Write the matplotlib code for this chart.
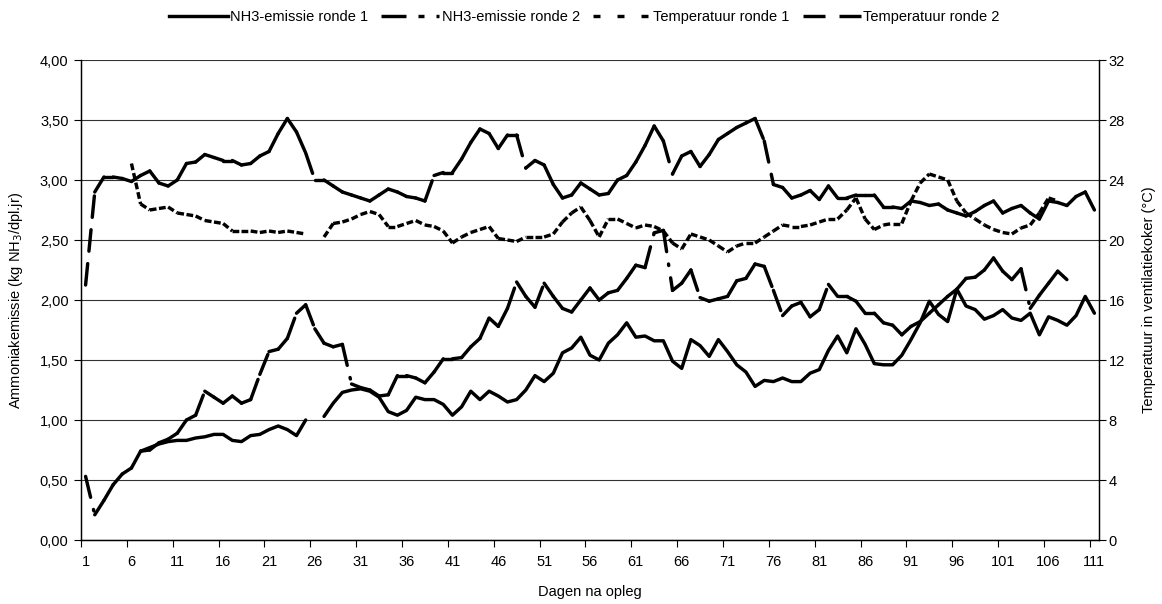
import numpy as np
import matplotlib
matplotlib.use("Agg")
import matplotlib.pyplot as plt
from matplotlib.collections import LineCollection
from matplotlib.lines import Line2D

plt.rcParams["font.family"] = ["Liberation Sans Narrow", "Liberation Sans", "DejaVu Sans"]
plt.rcParams["lines.scale_dashes"] = False

nan = np.nan
days = np.arange(1, 112)

# NH3 emission, kg NH3 per animal place per year
nh3_ronde1 = [
    nan, nan, nan, nan, nan, nan, 0.74, 0.77, 0.80, 0.82,
    0.83, 0.83, 0.85, 0.86, 0.88, 0.88, 0.83, 0.82, 0.87, 0.88,
    0.92, 0.95, 0.92, 0.87, 1.00, nan, 1.03, 1.14, 1.23, 1.25,
    1.26, 1.24, 1.19, 1.07, 1.04, 1.08, 1.19, 1.17, 1.17, 1.13,
    1.04, 1.11, 1.24, 1.17, 1.24, 1.20, 1.15, 1.17, 1.25, 1.37,
    1.32, 1.39, 1.56, 1.60, 1.69, 1.54, 1.50, 1.64, 1.71, 1.81,
    1.69, 1.70, 1.66, 1.66, 1.49, 1.43, 1.67, 1.62, 1.53, 1.67,
    1.57, 1.46, 1.40, 1.28, 1.33, 1.32, 1.35, 1.32, 1.32, 1.39,
    1.42, 1.58, 1.70, 1.56, 1.76, 1.63, 1.47, 1.46, 1.46, 1.54,
    1.67, 1.81, 1.99, 1.88, 1.82, 2.09, 1.95, 1.92, 1.84, 1.87,
    1.92, 1.85, 1.83, 1.89, 1.71, 1.86, 1.83, 1.79, 1.87, 2.03, 1.89,
]
nh3_ronde2 = [
    0.53, 0.21, 0.33, 0.46, 0.55, 0.60, 0.74, 0.75, 0.81, 0.84,
    0.89, 1.00, 1.04, 1.24, 1.19, 1.14, 1.20, 1.14, 1.17, 1.38,
    1.57, 1.59, 1.68, 1.89, 1.96, 1.76, 1.64, 1.61, 1.63, 1.30,
    1.27, 1.25, 1.20, 1.21, 1.37, 1.37, 1.35, 1.31, 1.40, 1.51,
    1.51, 1.52, 1.61, 1.68, 1.85, 1.78, 1.93, 2.15, 2.03, 1.94,
    2.14, 2.03, 1.93, 1.90, 2.00, 2.10, 2.00, 2.06, 2.08, 2.18,
    2.29, 2.27, 2.56, 2.58, 2.08, 2.14, 2.25, 2.02, 1.99, 2.01,
    2.03, 2.16, 2.18, 2.30, 2.28, 2.08, 1.87, 1.95, 1.98, 1.86,
    1.92, 2.13, 2.03, 2.03, 1.99, 1.89, 1.89, 1.81, 1.79, 1.71,
    1.78, 1.82, 1.89, 1.96, 2.03, 2.09, 2.18, 2.19, 2.25, 2.35,
    2.24, 2.17, 2.26, 1.93, 2.04, 2.14, 2.24, 2.17, nan, nan, nan,
]

# Temperature in the ventilation shaft, degrees C
temp_ronde1 = [
    nan, nan, nan, nan, nan, 25.1, 22.4, 22.0, 22.1, 22.2,
    21.8, 21.7, 21.6, 21.3, 21.2, 21.1, 20.6, 20.6, 20.6, 20.5,
    20.6, 20.5, 20.6, 20.5, 20.4, nan, 20.2, 21.1, 21.2, 21.4,
    21.7, 21.9, 21.7, 20.9, 20.9, 21.1, 21.3, 21.0, 20.9, 20.6,
    19.8, 20.2, 20.5, 20.7, 20.9, 20.1, 20.0, 19.9, 20.2, 20.2,
    20.2, 20.4, 21.2, 21.8, 22.2, 21.3, 20.2, 21.4, 21.4, 21.1,
    20.8, 21.0, 20.9, 20.6, 19.8, 19.4, 20.4, 20.2, 20.0, 19.6,
    19.2, 19.6, 19.8, 19.8, 20.2, 20.6, 21.0, 20.9, 20.9, 21.0,
    21.2, 21.4, 21.4, 22.0, 22.8, 21.4, 20.7, 21.0, 21.1, 21.1,
    22.6, 23.8, 24.4, 24.2, 24.0, 22.6, 21.8, 21.4, 21.0, 20.7,
    20.5, 20.4, 20.8, 21.0, 21.8, 22.8, 22.6, nan, nan, nan, nan,
]
temp_ronde2 = [
    17.0, 23.2, 24.2, 24.2, 24.1, 23.9, 24.3, 24.6, 23.8, 23.6,
    24.0, 25.1, 25.2, 25.7, 25.5, 25.3, 25.3, 25.0, 25.1, 25.6,
    25.9, 27.1, 28.1, 27.2, 25.8, 24.0, 24.0, 23.6, 23.2, 23.0,
    22.8, 22.6, 23.0, 23.4, 23.2, 22.9, 22.8, 22.6, 24.3, 24.5,
    24.5, 25.4, 26.5, 27.4, 27.1, 26.1, 27.0, 27.0, 24.8, 25.3,
    25.0, 23.7, 22.8, 23.0, 23.8, 23.4, 23.0, 23.1, 24.0, 24.3,
    25.2, 26.3, 27.6, 26.6, 24.4, 25.6, 25.9, 24.9, 25.7, 26.7,
    27.1, 27.5, 27.8, 28.1, 26.6, 23.7, 23.5, 22.8, 23.0, 23.3,
    22.7, 23.6, 22.8, 22.8, 23.0, 23.0, 23.0, 22.2, 22.2, 22.1,
    22.6, 22.5, 22.3, 22.4, 22.0, 21.8, 21.6, 21.9, 22.3, 22.6,
    21.8, 22.1, 22.3, 21.8, 21.4, 22.6, 22.5, 22.3, 22.9, 23.2, 22.0,
]

labels = ["NH3-emissie ronde 1", "NH3-emissie ronde 2",
          "Temperatuur ronde 1", "Temperatuur ronde 2"]

PX = 0.72  # points per pixel at 100 dpi
LW = 3.4 * PX

fig = plt.figure(figsize=(11.62, 6.04), dpi=100)
ax = fig.add_axes([81 / 1162, 64 / 604, 1018 / 1162, 480 / 604])
ax2 = ax.twinx()


def dashed_segments(axis, x, y, pattern_px, cap):
    """Draw a series segment by segment, each segment starting its dash pattern anew."""
    y = np.asarray(y, dtype=float)
    segs = [[(x[i], y[i]), (x[i + 1], y[i + 1])]
            for i in range(len(x) - 1)
            if np.isfinite(y[i]) and np.isfinite(y[i + 1])]
    ls = (0, tuple(p * PX for p in pattern_px))
    lc = LineCollection(segs, colors="black", linewidths=LW, linestyles=[ls],
                        capstyle=cap, joinstyle="round", zorder=3)
    axis.add_collection(lc)


ax.plot(days, nh3_ronde1, color="black", lw=LW, solid_joinstyle="round",
        solid_capstyle="round", zorder=3)
dashed_segments(ax, days, nh3_ronde2, (21.5, 12.5, 1.5, 12.5), "round")
dashed_segments(ax2, days, temp_ronde1, (6.8, 3.0), "butt")
dashed_segments(ax2, days, temp_ronde2, (21.5, 12.5), "round")

# Axes ranges and ticks
ax.set_xlim(0.5, 111.5)
ax.set_ylim(0, 4)
ax2.set_ylim(0, 32)

yt = np.arange(0, 4.01, 0.5)
ax.set_yticks(yt)
ax.set_yticklabels([f"{v:.2f}".replace(".", ",") for v in yt])
ax2.set_yticks(np.arange(0, 33, 4))

ax.set_xticks(np.arange(0.5, 112, 5))
ax.set_xticklabels([])
ax.set_xticks(np.arange(1, 112, 5), minor=True)
ax.set_xticklabels([str(d) for d in range(1, 112, 5)], minor=True)
ax.tick_params(axis="x", which="major", length=5, width=0.8, direction="out")
ax.tick_params(axis="x", which="minor", length=0, pad=11, labelsize=10.5)
ax.tick_params(axis="y", length=5, width=0.8, direction="out", pad=4, labelsize=10.5)
ax2.tick_params(axis="y", length=5, width=0.8, direction="out", pad=2, labelsize=10.5)

ax.yaxis.grid(True, color="#333333", lw=0.8)
ax.set_axisbelow(True)

for a in (ax, ax2):
    a.spines["top"].set_visible(False)
    for s in ("left", "right", "bottom"):
        a.spines[s].set_linewidth(0.9)

ax.set_ylabel("Ammoniakemissie (kg NH$_3$/dpl.jr)", fontsize=10.5)
ax.yaxis.set_label_coords(-0.055, 0.5)
ax2.set_ylabel("Temperatuur in ventilatiekoker (°C)", fontsize=10.5)
ax2.yaxis.set_label_coords(1.042, 0.5)
ax.set_xlabel("Dagen na opleg", fontsize=10.5)
ax.xaxis.set_label_coords(0.5, -0.094)

handles = [
    Line2D([], [], color="black", lw=LW),
    Line2D([], [], color="black", lw=LW, dash_capstyle="butt",
           linestyle=(0, (25 * PX, 12 * PX, 6 * PX, 12 * PX))),
    Line2D([], [], color="black", lw=LW, dash_capstyle="butt",
           linestyle=(0, (7 * PX, 17 * PX))),
    Line2D([], [], color="black", lw=LW, dash_capstyle="butt",
           linestyle=(0, (22 * PX, 14 * PX))),
]
fig.legend(handles, labels, loc="center", bbox_to_anchor=(0.503, 1 - 17 / 604),
           ncol=4, frameon=False, fontsize=10.5, handlelength=4.0,
           handletextpad=0.15, columnspacing=0.9)

fig.savefig("out.png", dpi=100)
